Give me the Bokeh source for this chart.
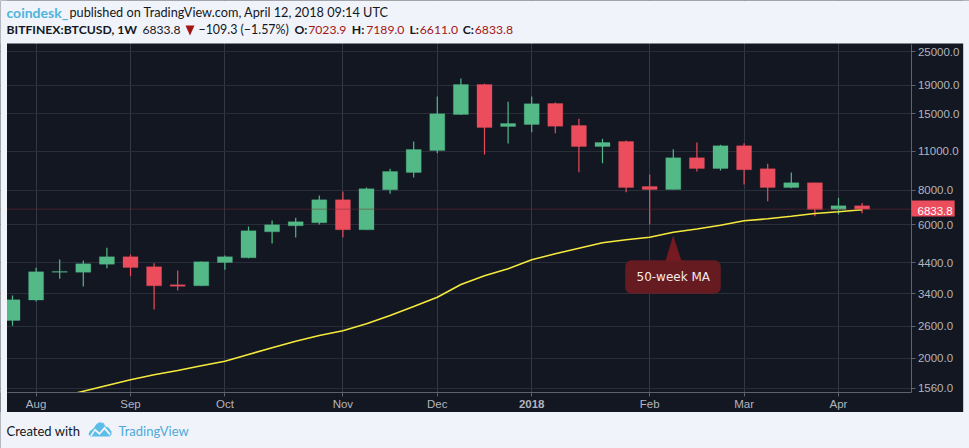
from bokeh.plotting import figure
from bokeh.models import (Range1d, FixedTicker, NumeralTickFormatter, Label, BoxAnnotation,
                          PolyAnnotation, Span, ColumnDataSource)
from bokeh.embed import file_html
from bokeh.resources import INLINE

# weekly candles, BITFINEX:BTCUSD
opens = [2727, 3230, 4060, 4060, 4340, 4613, 4248, 3661, 3631, 4401, 4575, 5669, 5957, 6107, 7384, 5764, 8017, 9248, 11088, 14924, 19118, 13516, 13742, 16340, 13628, 11460, 11943, 8238, 8037, 10441, 9558, 11527, 9535, 8171, 8494, 6815, 7023.9]
closes = [3235, 4076, 4090, 4354, 4613, 4223, 3631, 3619, 4426, 4613, 5716, 6006, 6162, 7384, 5764, 8084, 9325, 11180, 15010, 19118, 13405, 13853, 16300, 13548, 11460, 11845, 8171, 8037, 10441, 9558, 11527, 9457, 8171, 8494, 6815, 7027, 6833.8]
highs = [3352, 4213, 4511, 4474, 4968, 4701, 4376, 4120, 4440, 4663, 5923, 6224, 6363, 7649, 7906, 8171, 9535, 11943, 17316, 20083, 19250, 16574, 17316, 16473, 14404, 12213, 12043, 9096, 11208, 11845, 11622, 11778, 9936, 9248, 8500, 7506, 7189]
lows = [2610, 3190, 3847, 3610, 4199, 3931, 2986, 3493, 3625, 4144, 4560, 5148, 5409, 6022, 5409, 5750, 7758, 8875, 10845, 14900, 10728, 11748, 12897, 12790, 9271, 9986, 7861, 6022, 8030, 9325, 9402, 8376, 7292, 8125, 6448, 6539, 6611]
ma50 = [float("nan"), float("nan"), 1451, 1522, 1595, 1672, 1742, 1805, 1877, 1949, 2060, 2177, 2299, 2410, 2505, 2654, 2842, 3061, 3305, 3670, 3944, 4178, 4500, 4728, 4952, 5178, 5307, 5423, 5651, 5802, 5987, 6208, 6311, 6449, 6594, 6687, 6798]
price_ticks = [1560, 2000, 2600, 3400, 4400, 6000, 8000, 11000, 15000, 19000, 25000]
month_weeks = [1, 5, 9, 14, 18, 22, 27, 31, 35]
month_labels = ["Aug", "Sep", "Oct", "Nov", "Dec", "2018", "Feb", "Mar", "Apr"]

UP, DOWN = "#53b987", "#eb4d5c"
DARK, PAGE = "#131722", "#f0f3fa"
weeks = list(range(len(opens)))
colors = [UP if c >= o else DOWN for o, c in zip(opens, closes)]
src = ColumnDataSource(dict(week=weeks, top=[max(o, c) for o, c in zip(opens, closes)],
                            bottom=[min(o, c) for o, c in zip(opens, closes)],
                            high=highs, low=lows, color=colors))

# the frame fills the whole canvas; axes sit at fixed locations inside it
p = figure(width=969, height=448, margin=0, output_backend="svg", toolbar_location=None,
           y_axis_type="log", y_axis_location="right",
           x_range=Range1d(-0.5085, 40.551), y_range=Range1d(948.5, 38228),
           min_border=0)
p.background_fill_color = DARK
p.border_fill_color = DARK
p.outline_line_color = None

bounds = {"x": (-0.212, 38.11), "y": (1502, 26690)}
for ax, ticks, b, loc in ((p.xaxis[0], month_weeks, bounds["x"], bounds["y"][0]),
                          (p.yaxis[0], price_ticks, bounds["y"], bounds["x"][1])):
    ax.ticker = FixedTicker(ticks=ticks)
    ax.bounds = b
    ax.fixed_location = loc
    ax.level = "overlay"
    ax.axis_line_color = "#5d626d"
    ax.major_tick_line_color = "#5d626d"
    ax.major_tick_out = 4
    ax.major_tick_in = 0
    ax.minor_tick_line_color = None
    ax.major_label_text_color = "#b2b5be"
    ax.major_label_text_font = "Liberation Sans"
    ax.major_label_text_font_size = "11.5px"
    ax.major_label_standoff = 2
p.xaxis[0].major_label_standoff = 1
p.xaxis[0].major_label_overrides = {w: ("" if s == "2018" else s) for w, s in zip(month_weeks, month_labels)}
p.yaxis[0].formatter = NumeralTickFormatter(format="0.0")
p.xgrid.ticker = FixedTicker(ticks=month_weeks)
p.ygrid.ticker = FixedTicker(ticks=price_ticks)
p.xgrid.grid_line_color = "#343844"
p.ygrid.grid_line_color = "#2a2e39"

p.segment("week", "low", "week", "high", source=src, color="color", line_width=1.2)
p.vbar("week", 0.636, "bottom", "top", source=src, fill_color="color", line_color="color", line_width=0.3)
p.line(weeks, ma50, line_color="#f5ea3c", line_width=1.6)
p.add_layout(Span(location=closes[-1], dimension="width", line_color="#7e2b38", line_width=1, line_dash=[1, 1]))


def box(left, right, top, bottom, color):
    p.add_layout(BoxAnnotation(left=left, right=right, top=top, bottom=bottom, left_units="canvas",
                               right_units="canvas", top_units="canvas", bottom_units="canvas",
                               fill_color=color, fill_alpha=1, line_color=None))


def poly(xs, ys, color):
    p.add_layout(PolyAnnotation(xs=xs, ys=ys, xs_units="canvas", ys_units="canvas", fill_color=color,
                                fill_alpha=1, line_color=None, level="overlay"))


def text(x, y, s, color="#131722", size="12.4px", font="Lato", style="normal", **kw):
    p.add_layout(Label(x=x, y=y, x_units="canvas", y_units="canvas", text=s, text_color=color,
                       text_font=font, text_font_size=size, text_font_style=style,
                       text_baseline="middle", level="overlay", **kw))


# masks: dark axis strips, then the page colour around the dark panel
box(911.5, 969, 43, 411.5, DARK)
box(0, 969, 392.3, 411.5, DARK)
box(0, 969, 0, 43, PAGE)
box(0, 969, 411.5, 448, PAGE)
box(0, 6.5, 0, 448, PAGE)
box(962.7, 969, 0, 448, PAGE)

# bold year label under its tick
year_week = month_weeks[month_labels.index("2018")]
p.add_layout(Label(x=year_week, y=403, x_units="data", y_units="canvas", text="2018", text_color="#b2b5be",
                   text_font="Liberation Sans", text_font_size="11.5px", text_font_style="bold",
                   text_align="center", text_baseline="middle", level="overlay"))

# header
text(6, 11.5, "coindesk_", color="#4fb3dc", size="14px", style="bold")
text(69, 11.5, "published on TradingView.com, April 12, 2018 09:14 UTC", size="12.7px")
text(6, 29, "BITFINEX:BTCUSD, 1W", size="12.2px", style="bold")
text(142, 29, f"{closes[-1]}", size="12.1px")
poly([185, 194, 189.5], [25, 25, 35], "#a31515")
text(198, 29, "\u2212109.3 (\u22121.57%)", size="12.4px")
head = [(294, 307.7, "O:", opens[-1]), (351.3, 365.7, "H:", highs[-1]),
        (409, 419.3, "L:", lows[-1]), (462.3, 474.3, "C:", closes[-1])]
for x, x2, name, val in head:
    text(x, 29, name, size="12.2px", style="bold")
    text(x2, 29, f"{val:.1f}", color="#a31515", size="12.2px")

# last price tag
text(911, 208, f"{closes[-1]}", color="#ffffff", size="11.5px", font="Liberation Sans",
     background_fill_color=DOWN, padding=(6, 2, 6, 2))

# callout
poly([665, 672.7, 681], [260.5, 235, 260.5], "#741a20")
p.add_layout(BoxAnnotation(left=625, right=720, top=260, bottom=293, left_units="canvas", right_units="canvas",
                           top_units="canvas", bottom_units="canvas", fill_color="#661b21", fill_alpha=1,
                           line_color="#7f2228", border_radius=6, level="overlay"))
text(636, 276, "50-week MA", color="#f4eaea", size="12px", font="DejaVu Sans")

# footer
text(6, 430, "Created with", size="13px")
poly([88, 89, 93, 96, 99, 103, 105, 108, 111, 111, 109, 90],
     [434, 431, 428, 423.5, 421.7, 422.5, 426, 427, 431, 434, 436, 436], "#5cbde8")
poly([89.5, 94.5, 99, 104, 110, 109, 104, 99, 94.5, 91], [435, 428, 432, 426, 433, 435, 429, 434.5, 430.5, 436],
     PAGE)
text(118, 430, "TradingView", color="#4fa9d8", size="13px")

open("out.html", "w").write(file_html(p, INLINE))
